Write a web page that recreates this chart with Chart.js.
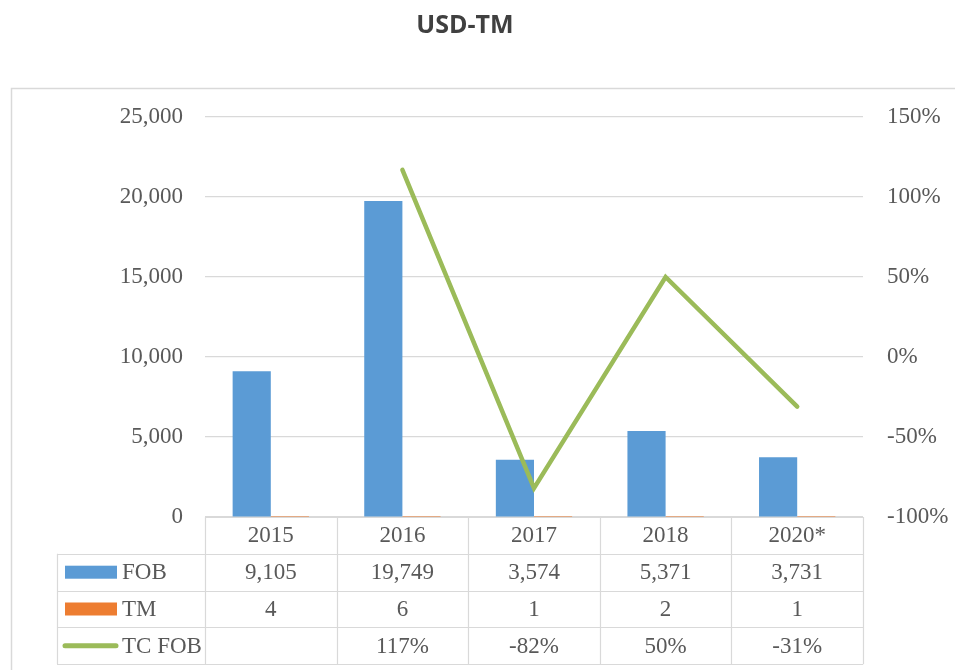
<!DOCTYPE html>
<html>
<head>
<meta charset="utf-8">
<script src="https://cdn.jsdelivr.net/npm/chart.js@4/dist/chart.umd.min.js"></script>
<style>
  body { margin: 0; background: #fff; }
</style>
</head>
<body>
<canvas id="grafico" width="955" height="670"></canvas>
<script>
// datos
const anios = ['2015', '2016', '2017', '2018', '2020*'];
const fob = [9105, 19749, 3574, 5371, 3731];
const tm = [4, 6, 1, 2, 1];
const tcFob = [null, 117, -82, 50, -31]; // en %

const fuenteSerif = "'Liberation Serif', serif";
const colorTexto = '#595959';
const colorLinea = '#d9d9d9';

const fmt = n => n.toLocaleString('en-US');

// marco, titulo y tabla de datos
const tablaPlugin = {
  id: 'tabla',
  beforeDraw(chart) {
    const ctx = chart.ctx;
    ctx.save();
    ctx.fillStyle = '#fff';
    ctx.fillRect(0, 0, chart.width, chart.height);
    ctx.strokeStyle = colorLinea;
    ctx.lineWidth = 1.5;
    ctx.strokeRect(11.5, 88.5, 1000, 700);
    ctx.fillStyle = '#404040';
    ctx.font = "bold 25px 'Open Sans', sans-serif";
    ctx.textAlign = 'center';
    ctx.textBaseline = 'middle';
    ctx.fillText('USD-TM', 465, 26);
    ctx.restore();
  },
  afterDraw(chart) {
    const ctx = chart.ctx;
    const x = chart.scales.x;
    const area = chart.chartArea;
    const n = anios.length;
    const cw = (x.right - x.left) / n;
    const top = area.bottom;
    const rowH = 36.8;
    const izq = 57;
    ctx.save();
    ctx.strokeStyle = colorLinea;
    ctx.lineWidth = 1.2;
    ctx.beginPath();
    // lineas horizontales
    for (let r = 0; r <= 4; r++) {
      const y = Math.round(top + r * rowH) + 0.5;
      ctx.moveTo(r === 0 ? x.left : izq, y);
      ctx.lineTo(x.right, y);
    }
    // verticales
    for (let i = 0; i <= n; i++) {
      const xx = Math.round(x.left + i * cw) + 0.5;
      ctx.moveTo(xx, top);
      ctx.lineTo(xx, top + 4 * rowH);
    }
    ctx.moveTo(izq + 0.5, top + rowH);
    ctx.lineTo(izq + 0.5, top + 4 * rowH);
    ctx.stroke();

    ctx.fillStyle = colorTexto;
    ctx.font = '23px ' + fuenteSerif;
    ctx.textAlign = 'center';
    ctx.textBaseline = 'middle';
    const filas = [
      anios,
      fob.map(fmt),
      tm.map(fmt),
      tcFob.map(v => v === null ? '' : v + '%')
    ];
    filas.forEach((fila, r) => {
      const y = top + r * rowH + rowH / 2 + 1;
      fila.forEach((t, i) => {
        ctx.fillText(t, x.getPixelForValue(i), y);
      });
    });

    // leyenda en la tabla
    const nombres = ['FOB', 'TM', 'TC FOB'];
    ctx.textAlign = 'left';
    nombres.forEach((nom, k) => {
      const y = top + (k + 1) * rowH + rowH / 2;
      if (k < 2) {
        ctx.fillStyle = k === 0 ? '#5b9bd5' : '#ed7d31';
        ctx.fillRect(65, y - 6.5, 52, 13);
      } else {
        ctx.strokeStyle = '#9bbb59';
        ctx.lineWidth = 5;
        ctx.lineCap = 'round';
        ctx.beginPath();
        ctx.moveTo(65, y);
        ctx.lineTo(116, y);
        ctx.stroke();
      }
      ctx.fillStyle = colorTexto;
      ctx.fillText(nom, 122, y + 1);
    });
    ctx.restore();
  }
};

new Chart(document.getElementById('grafico'), {
  type: 'bar',
  data: {
    labels: anios,
    datasets: [
      {
        type: 'line',
        label: 'TC FOB',
        data: tcFob,
        yAxisID: 'y1',
        borderColor: '#9bbb59',
        borderWidth: 4.5,
        borderCapStyle: 'round',
        pointRadius: 0,
        tension: 0,
        order: 0
      },
      {
        label: 'FOB',
        data: fob,
        backgroundColor: '#5b9bd5',
        yAxisID: 'y',
        order: 1
      },
      {
        label: 'TM',
        data: tm,
        backgroundColor: '#ed7d31',
        yAxisID: 'y',
        order: 1
      }
    ]
  },
  options: {
    responsive: false,
    animation: false,
    layout: { padding: { top: 117, bottom: 153, left: 0, right: 0 } },
    datasets: { bar: { categoryPercentage: 0.58, barPercentage: 1 } },
    plugins: {
      legend: { display: false },
      title: { display: false },
      tooltip: { enabled: false }
    },
    scales: {
      x: { display: false },
      y: {
        position: 'left',
        min: 0,
        max: 25000,
        afterFit: s => { s.width = 205; },
        ticks: {
          stepSize: 5000,
          padding: 22,
          color: colorTexto,
          font: { family: fuenteSerif, size: 23 },
          callback: v => fmt(v)
        },
        grid: { color: colorLinea, lineWidth: 1.2, drawTicks: false },
        border: { display: false }
      },
      y1: {
        position: 'right',
        min: -100,
        max: 150,
        afterFit: s => { s.width = 92; },
        ticks: {
          stepSize: 50,
          padding: 24,
          color: colorTexto,
          font: { family: fuenteSerif, size: 23 },
          callback: v => v + '%'
        },
        grid: { display: false, drawTicks: false },
        border: { display: false }
      }
    }
  },
  plugins: [tablaPlugin]
});
</script>
</body>
</html>
